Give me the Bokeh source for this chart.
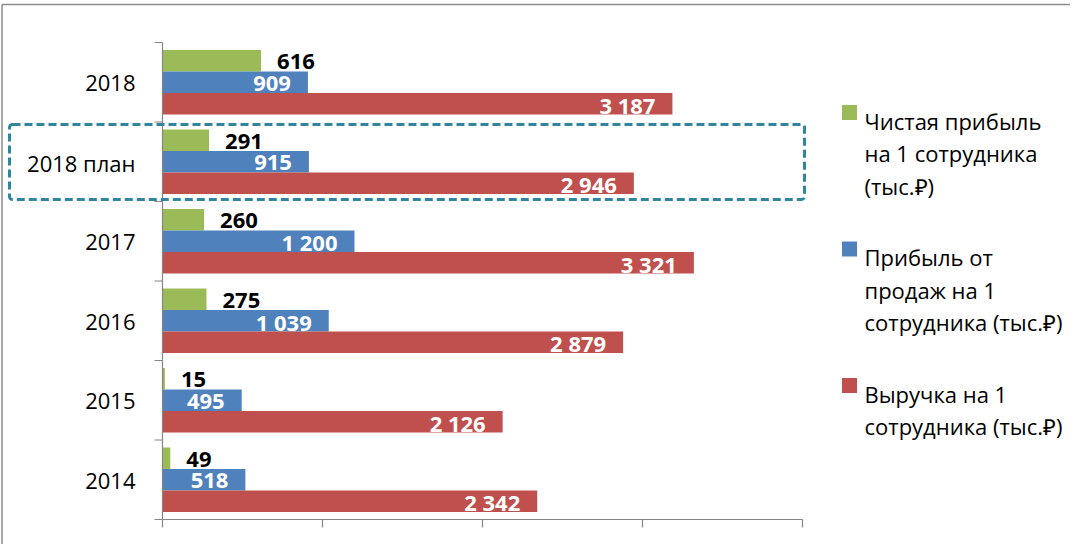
import math
from bokeh.plotting import figure
from bokeh.models import ColumnDataSource, BoxAnnotation, Range1d
from bokeh.embed import file_html
from bokeh.resources import INLINE
from bokeh.core.properties import value

# ---------------- data ----------------
categories = ["2014", "2015", "2016", "2017", "2018 план", "2018"]
net_profit = [49, 15, 275, 260, 291, 616]
sales_profit = [518, 495, 1039, 1200, 915, 909]
revenue = [2342, 2126, 2879, 3321, 2946, 3187]
series_names = [
    "Чистая прибыль\nна 1 сотрудника\n(тыс.₽)",
    "Прибыль от\nпродаж на 1\nсотрудника (тыс.₽)",
    "Выручка на 1\nсотрудника (тыс.₽)",
]
colors = ["#9BBB59", "#4F81BD", "#C0504D"]
x_ticks = [0, 1000, 2000, 3000, 4000]
highlight = "2018 план"

# ---------------- layout (pixels inside the 1070x544 canvas) ----------------
W, H = 1070, 544
PX_X0, PX_X1 = 162, 802        # where the value axis starts / ends
PX_Y_TOP, PX_Y_BOT = 42, 519   # top / bottom of the category axis
FONT = "Open Sans"
BAR_H = 0.27
AXIS_COLOR = "#868686"

n = len(categories)
sx = (PX_X1 - PX_X0) / (x_ticks[-1] - x_ticks[0])
sy = (PX_Y_BOT - PX_Y_TOP) / n


def fx(px):
    return x_ticks[0] + (px - PX_X0) / sx


def fy(py):
    return (PX_Y_BOT - py) / sy


def fmt(v):
    return f"{v:,}".replace(",", " ")


p = figure(width=W, height=H, x_range=Range1d(fx(0), fx(W)), y_range=Range1d(fy(H), fy(0)),
           output_backend="svg", toolbar_location=None,
           x_axis_location=None, y_axis_location=None,
           min_border=0, min_border_left=0, min_border_right=0,
           min_border_top=0, min_border_bottom=0)
p.outline_line_color = None
p.xgrid.visible = False
p.ygrid.visible = False

centers = [i + 0.5 for i in range(n)]
series = [net_profit, sales_profit, revenue]
offsets = [BAR_H, 0.0, -BAR_H]

# outer frame of the embedded chart (only left and top edges are visible)
p.segment(x0=[fx(1.5), fx(1.5)], y0=[fy(4), fy(4)], x1=[fx(W + 30), fx(1.5)],
          y1=[fy(4), fy(H + 30)], line_color="#8C8C8C", line_width=1.5)

# bars
sources = []
for vals, off, col in zip(series, offsets, colors):
    src = ColumnDataSource(dict(y=[c + off for c in centers], right=vals,
                                label=[fmt(v) for v in vals]))
    p.hbar(y="y", left=0, right="right", height=BAR_H, source=src,
           fill_color=col, line_color=None)
    sources.append(src)

# axis lines and ticks
p.segment(x0=[x_ticks[0], x_ticks[0]], y0=[0, 0], x1=[x_ticks[0], x_ticks[-1]], y1=[n, 0],
          line_color=AXIS_COLOR, line_width=1.2)
p.ray(x=x_ticks, y=[0] * len(x_ticks), length=8, length_units="screen",
      angle=-math.pi / 2, line_color=AXIS_COLOR, line_width=1.2)
p.ray(x=[x_ticks[0]] * (n + 1), y=list(range(n + 1)), length=8, length_units="screen",
      angle=math.pi, line_color=AXIS_COLOR, line_width=1.2)

# category labels
p.text(x=[x_ticks[0]] * n, y=centers, text=categories, x_offset=-27, y_offset=1,
       text_align="right", text_baseline="middle", text_font=value(FONT),
       text_font_size="22px", text_color="black")

# data labels
p.text(x="right", y="y", text="label", source=sources[0], x_offset=16, y_offset=1,
       text_align="left", text_baseline="middle", text_font=value(FONT),
       text_font_style="bold", text_font_size="22px", text_color="black")
for src in sources[1:]:
    p.text(x="right", y="y", text="label", source=src, x_offset=-17, y_offset=1,
           text_align="right", text_baseline="middle", text_font=value(FONT),
           text_font_style="bold", text_font_size="22px", text_color="white")

# highlight box around the planned category
hi = categories.index(highlight)
p.add_layout(BoxAnnotation(left=fx(9), right=fx(804), bottom=hi + 0.025, top=hi + 0.97,
                           fill_color=None, line_color="#31859C", line_alpha=1,
                           line_width=3, line_dash="8 4", border_radius=3))

# legend
LEG_SQ_X, LEG_TXT_X = 849, 864
LEG_FIRST_CY, LEG_ITEM_PITCH, LEG_LINE_PITCH = 112, 136.5, 32.7
sq_y = [fy(LEG_FIRST_CY + k * LEG_ITEM_PITCH) for k in range(len(series_names))]
p.rect(x=[fx(LEG_SQ_X)] * len(series_names), y=sq_y, width=15, height=15,
       width_units="screen", height_units="screen", fill_color=colors, line_color=None)
lx, ly, lt = [], [], []
for k, name in enumerate(series_names):
    for j, line in enumerate(name.split("\n")):
        lx.append(fx(LEG_TXT_X))
        ly.append(fy(LEG_FIRST_CY + 8 + k * LEG_ITEM_PITCH + j * LEG_LINE_PITCH))
        lt.append(line)
p.text(x=lx, y=ly, text=lt, text_align="left", text_baseline="alphabetic",
       text_font=value(FONT), text_font_size="22px", text_color="black")

open("out.html", "w").write(file_html(p, INLINE))
